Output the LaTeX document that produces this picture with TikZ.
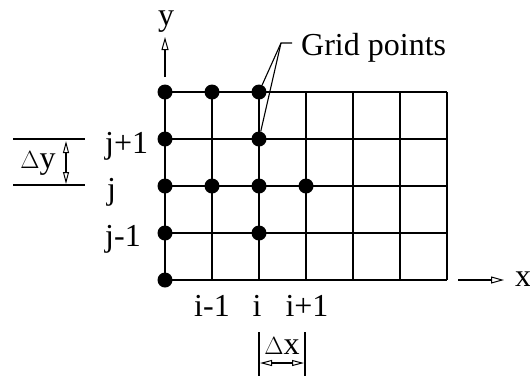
\documentclass[tikz,border=0pt]{standalone}
\usepackage{fontspec}
\setmainfont{Liberation Serif}
\usetikzlibrary{arrows.meta}
\begin{document}
\begin{tikzpicture}[x=1pt,y=-1pt,
  gl/.style={line width=1.3pt},
  thin line/.style={line width=1.1pt},
  dot/.style={circle,fill=black,inner sep=0pt,minimum size=15pt},
  lbl/.style={font=\fontsize{32}{32}\selectfont,inner sep=0pt},
  axarrow/.style={thin line,-{Triangle[open,length=13pt,width=7pt,line width=1pt]}},
  dblarrow/.style={thin line,{Triangle[open,length=12pt,width=6pt,line width=1pt]}-{Triangle[open,length=12pt,width=6pt,line width=1pt]}}]
\useasboundingbox (0,0) rectangle (530,376);
% grid
\foreach \c in {0,...,6} \draw[gl] (165+47*\c,92) -- (165+47*\c,280);
\foreach \r in {0,...,4} \draw[gl] (165,92+47*\r) -- (447,92+47*\r);
% grid point dots
\node[dot] (a1) at (165,92) {};
\node[dot] (a2) at (212,92) {};
\node[dot] (a3) at (259,92) {};
\node[dot] (b1) at (165,139) {};
\node[dot] (b3) at (259,139) {};
\node[dot] (c1) at (165,186) {};
\node[dot] (c2) at (212,186) {};
\node[dot] (c3) at (259,186) {};
\node[dot] (c4) at (306,186) {};
\node[dot] (d1) at (165,233) {};
\node[dot] (d3) at (259,233) {};
\node[dot] (e1) at (165,280) {};
% axes
\coordinate (ys) at (165,77);
\coordinate (ye) at (165,37);
\draw[axarrow] (ys) -- (ye);
\node[lbl,anchor=base] (ylab) at (166,25) {y};
\coordinate (xs) at (458,280);
\coordinate (xe) at (504,280);
\draw[axarrow] (xs) -- (xe);
\node[lbl,anchor=base west] (xlab) at (515,286) {x};
% grid points label
\coordinate (apex) at (281,43);
\coordinate (dash) at (292,43);
\node[lbl,anchor=base west] (gp) at (301,55) {Grid points};
\draw[thin line] (a3) -- (apex) -- (dash);
\draw[thin line] (b3) -- (apex);
% j labels
\node[lbl,anchor=base west] (jp) at (105,153) {j+1};
\node[lbl,anchor=base west] (j) at (107,199) {j};
\node[lbl,anchor=base west] (jm) at (105,246) {j-1};
% i labels
\node[lbl,anchor=base] (im) at (212,316) {i-1};
\node[lbl,anchor=base] (i) at (257,316) {i};
\node[lbl,anchor=base] (ip) at (307,316) {i+1};
% delta y
\coordinate (dy1l) at (13,139);
\coordinate (dy1r) at (85,139);
\coordinate (dy2l) at (13,185);
\coordinate (dy2r) at (85,185);
\draw[thin line] (dy1l) -- (dy1r);
\draw[thin line] (dy2l) -- (dy2r);
\coordinate (dya) at (66,141);
\coordinate (dyb) at (66,184);
\draw[dblarrow] (dya) -- (dyb);
\node[lbl,anchor=base] (dylab) at (38,168) {$\Delta$y};
% delta x
\coordinate (dx1t) at (259,332);
\coordinate (dx1b) at (259,376);
\coordinate (dx2t) at (305,332);
\coordinate (dx2b) at (305,376);
\draw[thin line] (dx1t) -- (dx1b);
\draw[thin line] (dx2t) -- (dx2b);
\coordinate (dxa) at (260,363);
\coordinate (dxb) at (304,363);
\draw[dblarrow] (dxa) -- (dxb);
\node[lbl,anchor=base] (dxlab) at (282,354) {$\Delta$x};
\end{tikzpicture}
\end{document}
